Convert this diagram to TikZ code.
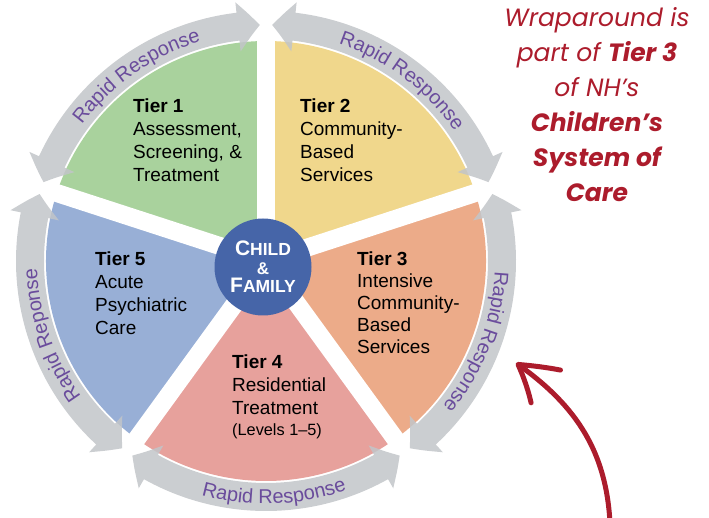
\documentclass[tikz,border=0pt]{standalone}
\usepackage{fontspec}
\setmainfont{Liberation Sans}
\newfontfamily\poppins{Poppins}
\usetikzlibrary{arrows.meta,bending,decorations.text}
\definecolor{tierone}{RGB}{169,210,157}
\definecolor{tiertwo}{RGB}{240,215,140}
\definecolor{tierthree}{RGB}{236,171,137}
\definecolor{tierfour}{RGB}{231,161,156}
\definecolor{tierfive}{RGB}{152,175,214}
\definecolor{hubblue}{RGB}{70,101,168}
\definecolor{ringgrey}{RGB}{194,197,201}
\definecolor{rrpurple}{RGB}{106,76,156}
\definecolor{wrapred}{RGB}{172,28,44}
\newcommand\rrfont{\color{rrpurple}\fontsize{20}{20}\selectfont}
\newcommand\hubbig{\fontsize{21}{18.5}\selectfont}
\newcommand\hubsmall{\fontsize{17.5}{18.5}\selectfont}

\begin{document}
\begin{tikzpicture}[x=1pt, y=1pt, inner sep=0pt,
    tier/.style={anchor=north west, align=left, font=\fontsize{19}{23}\selectfont},
    ring/.style={draw=ringgrey, line width=28pt,
      {Triangle[length=22pt, width=48pt, bend]}-{Triangle[length=22pt, width=48pt, bend]}},
    rr/.style={decorate, decoration={text along path, text align=center, text={|\rrfont|#1}}},
    gap/.style={draw=white, line width=18pt}]
  \useasboundingbox (0, 0) rectangle (709, 517);
  \begin{scope}[shift={(266, 256)}]
    \fill[tierone] (0, 0) -- (90:220) arc[start angle=90, end angle=162, radius=220] -- cycle; % tier 1
    \fill[tiertwo] (0, 0) -- (18:220) arc[start angle=18, end angle=90, radius=220] -- cycle; % tier 2
    \fill[tierthree] (0, 0) -- (-54:220) arc[start angle=-54, end angle=18, radius=220] -- cycle; % tier 3
    \fill[tierfour] (0, 0) -- (234:220) arc[start angle=234, end angle=306, radius=220] -- cycle; % tier 4
    \fill[tierfive] (0, 0) -- (162:220) arc[start angle=162, end angle=234, radius=220] -- cycle; % tier 5
    \foreach \a in {18, 90, 162, 234, 306}
      \draw[gap] (0, 0) -- (\a:223); % white spokes
    \begin{scope}[transparency group, opacity=0.85]
      \foreach \a in {18, 90, 162, 234, 306}
        \draw[ring] (\a+1.5:236) arc[start angle=\a+1.5, end angle=\a+70.5, radius=236]; % rapid response ring
    \end{scope}
    \path[rr={Rapid Response}] (159:229) arc[start angle=159, end angle=91, radius=229]; % over tier 1
    \path[rr={Rapid Response}] (87:229) arc[start angle=87, end angle=19, radius=229]; % over tier 2
    \path[rr={Rapid Response}] (13:229) arc[start angle=13, end angle=-55, radius=229]; % over tier 3
    \path[rr={Rapid Response}] (238:243) arc[start angle=238, end angle=306, radius=243]; % under tier 4
    \path[rr={Rapid Reponse}] (233:229) arc[start angle=233, end angle=165, radius=229]; % beside tier 5
    \node[circle, fill=hubblue, minimum size=97pt, text=white, align=center,
      font=\bfseries\hubsmall] (hub) at (-3, -6)
      {\hubbig C\hubsmall HILD\\\fontsize{17}{18.5}\selectfont\&\\\hubbig F\hubsmall AMILY}; % child & family
  \end{scope}
  \node[tier] (tierone) at (133, 418.6) {\textbf{Tier 1}\\Assessment,\\Screening, \&\\Treatment};
  \node[tier] (tiertwo) at (300, 418.6) {\textbf{Tier 2}\\Community-\\Based\\Services};
  \node[tier, font=\fontsize{19}{22}\selectfont] (tierthree) at (357, 265.6)
    {\textbf{Tier 3}\\Intensive\\Community-\\Based\\Services};
  \node[tier] (tierfour) at (232, 162.6)
    {\textbf{Tier 4}\\Residential\\Treatment\\[-1.5pt]{\fontsize{16.3}{19}\selectfont(Levels 1--5)}};
  \node[tier] (tierfive) at (95, 265.6) {\textbf{Tier 5}\\Acute\\Psychiatric\\Care};
  \node[anchor=north, align=center, text=wrapred, font=\poppins\itshape\fontsize{25}{35}\selectfont]
    (note) at (597, 510)
    {Wraparound is\\part of \textbf{Tier 3}\\of NH’s\\\textbf{Children’s}\\\textbf{System of}\\\textbf{Care}};
  \coordinate (redstart) at (610, -6);
  \coordinate (redtip) at (516, 154);
  \draw[wrapred, line width=5pt, line cap=round,
    -{Straight Barb[length=37pt, width=44pt, round, bend]}] (redstart) to[out=93, in=-35] (redtip); % points at tier 3
\end{tikzpicture}
\end{document}
